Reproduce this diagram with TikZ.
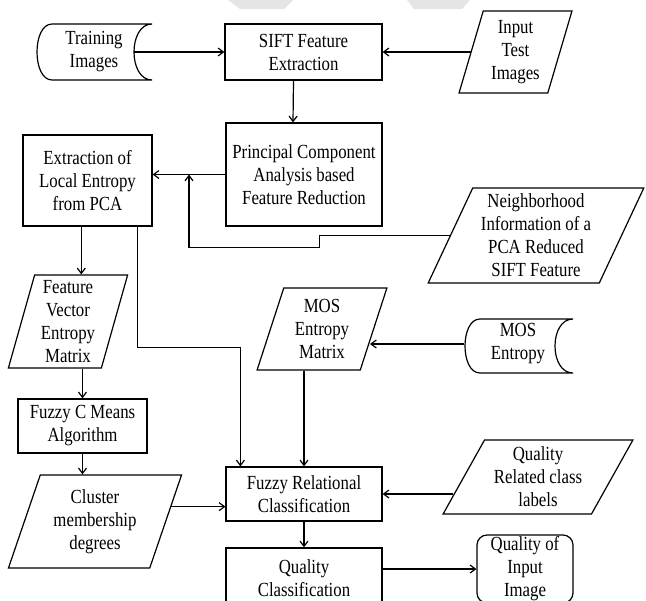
\documentclass[tikz,border=0pt]{standalone}
\usepackage{fontspec}
\setmainfont{Liberation Serif}[FakeStretch=0.84]
\usetikzlibrary{shapes.geometric,calc,arrows.meta}
\def\pu{0.75pt}
\def\storepiece#1#2{-- ++(-#1,0) .. controls +(-20,0) and +(-20,0) .. ++(0,#2) -- ++(#1,0) .. controls +(-24,0) and +(-24,0) .. ++(0,-#2)}

\begin{document}
\begin{tikzpicture}[x=\pu, y=-\pu, line width=0.9pt, >={Straight Barb[length=4pt,width=6pt]},
        every node/.style={font=\fontsize{15}{17.25}\selectfont, align=center, inner sep=0pt},
        box/.style={draw, rectangle},
        para/.style 2 args={draw, trapezium, trapezium stretches=true, trapezium left angle=#1, trapezium right angle=#2}]
            \path[use as bounding box, fill=white] (0,0) rectangle (646,600);
            \fill[gray!20] (228,0) -- (293,0) -- (284,9) -- (240,9) -- cycle;
            \fill[gray!20] (407,0) -- (470,0) -- (462,9) -- (414,9) -- cycle;

            \node[minimum width=78*\pu] (trn) at (94,52) {Training\\Images};
            \draw (152,24) \storepiece{100}{56};
            \node[box, minimum width=157*\pu, minimum height=56*\pu] (sift) at (303.5,52) {SIFT Feature\\Extraction};
            \node[para={74}{106}, minimum width=113*\pu, minimum height=82*\pu] (ipt) at (515.5,52) {Input\\Test\\Images};
            \node[box, minimum width=156*\pu, minimum height=103*\pu] (pca) at (304,174.5) {Principal Component\\Analysis based\\Feature Reduction};
            \node[box, minimum width=129*\pu, minimum height=91*\pu] (ext) at (87.5,180.5) {Extraction of\\Local Entropy\\from PCA};
            \node[para={65}{115}, minimum width=216*\pu, minimum height=95*\pu] (nbr) at (536,235.5) {Neighborhood\\Information of a\\PCA Reduced\\SIFT Feature};
            \node[para={75.5}{104.5}, minimum width=120*\pu, minimum height=93*\pu] (fv) at (68,321.5) {Feature\\Vector\\Entropy\\Matrix};
            \node[para={72.4}{107.6}, minimum width=130*\pu, minimum height=82*\pu] (mosm) at (322,329) {MOS\\Entropy\\Matrix};
            \node[minimum width=106*\pu] (mose) at (518,344) {MOS\\Entropy};
            \draw (573,319) \storepiece{93}{54};
            \node[box, minimum width=129*\pu, minimum height=54*\pu] (fcm) at (82.5,426) {Fuzzy C Means\\Algorithm};
            \node[para={69.4}{110.6}, minimum width=174*\pu, minimum height=93*\pu] (cl) at (95,521.5) {Cluster\\membership\\degrees};
            \node[box, minimum width=156*\pu, minimum height=54*\pu] (fr) at (304,494) {Fuzzy Relational\\Classification};
            \node[para={60.4}{119.6}, minimum width=190*\pu, minimum height=74*\pu] (qrl) at (538,477) {Quality\\Related class\\labels};
            \node[box, minimum width=156*\pu, minimum height=60*\pu] (qc) at (304,578) {Quality\\Classification};
            \node[box, rounded corners=7.5pt, minimum width=96*\pu, minimum height=68*\pu] (qoi) at (525,569) {Quality of\\Input\\Image};

            \draw[->] (trn.east) -- (sift.west);
            \draw[->] (ipt.left side) -- (sift.east);
            \draw[->] ($(sift.south)+(-10,0)$) -- ($(pca.north)+(-11,0)$);
            \draw[->] (pca.west) -- (pca.west -| ext.east);
            \draw[->] (nbr.left side) -- ++(-130,0) -- ++(0,12) -| ($(pca.west)!.5!(pca.west -| ext.east)$);
            \draw[->] (ext.south -| fv.top side) -- (fv.top side);
            \draw[->] ($(ext.south east)+(-15,0)$) -- ++(0,121) -| ($(fr.north west)+(15,0)$);
            \draw[->] (fv.bottom side -| fcm.north) -- (fcm.north);
            \draw[->] (fcm.south) -- (fcm.south |- cl.top side);
            \draw[->] (cl.11.5) -- (cl.11.5 -| fr.west);
            \draw[->] (mose.west) -- (mose.west -| mosm.-15);
            \draw[->] (mosm.bottom side -| fr.north) -- (fr.north);
            \draw[->] (qrl.-168.6 |- fr.east) -- (fr.east);
            \draw[->] (fr.south) -- (qc.north);
            \draw[->] (qoi.west -| qc.east) -- (qoi.west);
        \end{tikzpicture}
\end{document}
